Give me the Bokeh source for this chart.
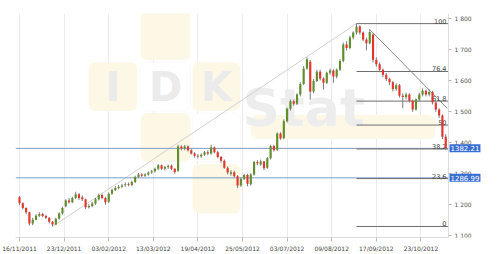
from bokeh.plotting import figure
from bokeh.models import (Range1d, FixedTicker, Label, BoxAnnotation, ColumnDataSource,
                          LinearAxis)
from bokeh.embed import file_html
from bokeh.resources import INLINE
from bokeh.core.properties import value

# ---------------- data ----------------
date_ticks = [0, 27, 54, 81, 108, 135, 162, 189, 216, 243]
date_labels = ["16/11/2011", "23/12/2011", "03/02/2012", "13/03/2012", "19/04/2012",
               "25/05/2012", "03/07/2012", "09/08/2012", "17/09/2012", "23/10/2012"]
price_ticks = [1100, 1200, 1300, 1400, 1500, 1600, 1700, 1800]
price_tick_labels = ["1 100", "1 200", "1 300", "1 400", "1 500", "1 600", "1 700", "1 800"]

opens = [1224, 1205, 1190, 1176, 1140, 1152, 1165, 1170, 1164, 1158,
         1145, 1136, 1155, 1172, 1195, 1214, 1208, 1222, 1234, 1224,
         1218, 1192, 1196, 1204, 1218, 1232, 1222, 1210, 1236, 1248,
         1254, 1258, 1264, 1266, 1264, 1274, 1290, 1298, 1294, 1298,
         1304, 1308, 1316, 1328, 1316, 1322, 1326, 1316, 1310, 1388,
         1382, 1388, 1376, 1366, 1358, 1356, 1362, 1370, 1366, 1385,
         1370, 1354, 1342, 1320, 1300, 1305, 1292, 1262, 1284, 1296,
         1266, 1298, 1338, 1330, 1340, 1320, 1350, 1390, 1378, 1430,
         1416, 1470, 1510, 1534, 1526, 1556, 1590, 1640, 1662, 1566,
         1600, 1630, 1608, 1594, 1626, 1634, 1614, 1636, 1664, 1718,
         1706, 1740, 1756, 1776, 1756, 1734, 1722, 1750, 1668, 1654,
         1636, 1620, 1606, 1596, 1574, 1586, 1552, 1548, 1556, 1536,
         1508, 1540, 1556, 1568, 1556, 1564, 1530, 1508, 1488, 1420]
highs = [1228, 1208, 1192, 1178, 1158, 1170, 1176, 1174, 1168, 1160,
         1148, 1158, 1176, 1194, 1218, 1222, 1226, 1242, 1238, 1230,
         1220, 1202, 1210, 1222, 1236, 1236, 1226, 1240, 1252, 1260,
         1264, 1268, 1272, 1272, 1278, 1294, 1303, 1302, 1302, 1308,
         1313, 1320, 1332, 1330, 1326, 1330, 1330, 1318, 1394, 1392,
         1393, 1392, 1380, 1370, 1364, 1366, 1374, 1376, 1394, 1388,
         1374, 1358, 1346, 1324, 1312, 1310, 1296, 1288, 1300, 1300,
         1302, 1342, 1344, 1346, 1342, 1354, 1394, 1394, 1434, 1434,
         1476, 1514, 1540, 1540, 1560, 1596, 1648, 1676, 1668, 1606,
         1636, 1636, 1612, 1630, 1640, 1638, 1640, 1670, 1724, 1728,
         1746, 1760, 1785, 1780, 1760, 1740, 1766, 1754, 1676, 1660,
         1640, 1626, 1610, 1600, 1592, 1590, 1560, 1562, 1560, 1540,
         1544, 1562, 1576, 1572, 1572, 1568, 1534, 1512, 1492, 1428]
lows = [1200, 1185, 1170, 1133, 1134, 1150, 1160, 1160, 1154, 1140,
        1130, 1134, 1152, 1168, 1192, 1204, 1205, 1218, 1216, 1212,
        1186, 1188, 1192, 1200, 1214, 1218, 1200, 1206, 1232, 1244,
        1250, 1254, 1258, 1260, 1260, 1270, 1286, 1290, 1290, 1294,
        1300, 1304, 1312, 1312, 1310, 1316, 1312, 1300, 1306, 1376,
        1376, 1372, 1362, 1352, 1350, 1352, 1358, 1360, 1362, 1366,
        1350, 1336, 1316, 1298, 1294, 1288, 1254, 1258, 1280, 1260,
        1262, 1294, 1328, 1326, 1312, 1316, 1346, 1372, 1374, 1410,
        1412, 1466, 1504, 1520, 1522, 1550, 1586, 1636, 1540, 1560,
        1596, 1602, 1572, 1590, 1620, 1594, 1608, 1632, 1660, 1698,
        1702, 1734, 1750, 1750, 1728, 1699, 1718, 1660, 1646, 1628,
        1612, 1600, 1586, 1566, 1568, 1546, 1512, 1540, 1530, 1500,
        1504, 1534, 1550, 1550, 1550, 1524, 1500, 1480, 1412, 1378]
closes = [1205, 1190, 1176, 1140, 1152, 1165, 1170, 1164, 1158, 1145,
          1136, 1155, 1172, 1190, 1214, 1208, 1222, 1234, 1222, 1218,
          1192, 1196, 1204, 1218, 1232, 1222, 1208, 1236, 1248, 1254,
          1258, 1262, 1266, 1264, 1274, 1290, 1298, 1294, 1298, 1304,
          1308, 1316, 1328, 1316, 1322, 1326, 1316, 1306, 1388, 1382,
          1388, 1376, 1366, 1358, 1356, 1362, 1370, 1366, 1385, 1370,
          1354, 1342, 1320, 1304, 1305, 1292, 1262, 1284, 1296, 1268,
          1298, 1338, 1334, 1340, 1318, 1350, 1390, 1376, 1430, 1414,
          1470, 1510, 1534, 1526, 1556, 1590, 1640, 1670, 1566, 1600,
          1630, 1608, 1594, 1626, 1634, 1614, 1636, 1664, 1718, 1706,
          1740, 1756, 1776, 1756, 1734, 1722, 1758, 1668, 1654, 1636,
          1620, 1606, 1596, 1574, 1586, 1552, 1548, 1556, 1536, 1508,
          1540, 1556, 1568, 1556, 1564, 1530, 1508, 1488, 1420, 1382.21]
bar_index = list(range(0, 2 * len(closes), 2))

fib_high = 1785
fib_low = 1130
fib_start = 204
fib_ratios = [0, 23.6, 38.2, 50, 61.8, 76.4, 100]
fib_labels = ["0", "23,6", "38,2", "50", "61,8", "76,4", "100"]

trend_up_x = [20, 204]
trend_up_y = [1130, 1785]
trend_down_x = [212, 259]
trend_down_y = [1766, 1511]

price_levels = [1382.21, 1286.99]
price_level_labels = ["1382.21", "1286.99"]

# ---------------- layout ----------------
W, H = 500, 254
FL, FR, FT, FB = 15, 500, 13, 238      # frame (pixels)
AXIS_PX = 448                           # where the price axis sits
PX0, PXSTEP = 19, 1.652                 # pixel of index 0, pixels per index unit
X0 = (FL - PX0) / PXSTEP
X1 = (FR - PX0) / PXSTEP
XA = (AXIS_PX - PX0) / PXSTEP
Y0, Y1 = 1094.4, 1817.7


def px_x(px):
    return (px - PX0) / PXSTEP


def px_y(py):
    return Y1 - (py - FT) * (Y1 - Y0) / (FB - FT)


p = figure(width=W, height=H, x_range=Range1d(X0, X1), y_range=Range1d(Y0, Y1),
           y_axis_location=None, output_backend="svg", toolbar_location=None,
           min_border_left=FL, min_border_right=0, min_border_top=FT,
           min_border_bottom=H - FB, background_fill_color="white",
           border_fill_color="white")
p.outline_line_color = None

# x axis
xa = p.xaxis[0]
xa.ticker = FixedTicker(ticks=date_ticks)
xa.major_label_overrides = {t: l for t, l in zip(date_ticks, date_labels)}
xa.bounds = (X0, XA)
xa.axis_line_color = "#dddddd"
xa.major_tick_line_color = "#bbbbbb"
xa.major_tick_out = 4
xa.major_tick_in = 0
xa.minor_tick_line_color = None
xa.major_label_text_font = "DejaVu Sans"
xa.major_label_text_font_size = "6px"
xa.major_label_text_color = "#444444"
xa.major_label_standoff = 3

# price axis, drawn at a fixed x inside the frame
ya = LinearAxis(fixed_location=XA, ticker=FixedTicker(ticks=price_ticks),
                major_label_overrides={t: l for t, l in zip(price_ticks, price_tick_labels)})
ya.axis_line_color = "#dddddd"
ya.major_tick_line_color = "#bbbbbb"
ya.major_tick_out = 3
ya.major_tick_in = 0
ya.minor_tick_line_color = None
ya.major_label_text_font = "DejaVu Sans"
ya.major_label_text_font_size = "6px"
ya.major_label_text_color = "#555555"
ya.major_label_standoff = 3
p.add_layout(ya, "right")

p.xgrid.ticker = FixedTicker(ticks=date_ticks)
p.xgrid.grid_line_color = "#ebebeb"
p.ygrid.grid_line_color = None

# watermark logo
yellow = "#fdf8e6"
for (a, b, c, d) in [(140, 9, 190, 60), (88, 62, 137, 111), (192, 62, 240, 111),
                     (140, 113, 190, 162), (192, 164, 240, 214), (250, 115, 435, 139)]:
    p.add_layout(BoxAnnotation(left=px_x(a), right=px_x(c), top=px_y(b), bottom=px_y(d),
                               fill_color=yellow, fill_alpha=1, line_color=None,
                               border_radius=7, level="underlay"))
for (a, b, c, d) in [(140, 62, 190, 111), (192, 113, 240, 162)]:
    p.add_layout(BoxAnnotation(left=px_x(a), right=px_x(c), top=px_y(b), bottom=px_y(d),
                               fill_color="white", fill_alpha=1, line_color="#f0f0f0",
                               line_width=1, border_radius=7, level="underlay"))
for (t, cx) in [("I", 112.5), ("D", 165), ("K", 216)]:
    p.add_layout(Label(x=px_x(cx), y=px_y(87), text=t, text_font="DejaVu Sans",
                       text_font_size="40px", text_font_style="bold", text_color="#ebebeb",
                       text_align="center", text_baseline="middle", level="underlay"))
p.add_layout(Label(x=px_x(242), y=px_y(108), text="Stat", text_font="DejaVu Sans",
                   text_font_size="52px", text_font_style="bold", text_color="#ededed",
                   text_align="left", text_baseline="alphabetic", level="underlay"))

# trend lines
p.line(trend_up_x, trend_up_y, line_color="#d2d2d2", line_width=1)
p.line(trend_down_x, trend_down_y, line_color="#8c8c8c", line_width=1)

# price level lines (full width up to the price axis)
lsrc = ColumnDataSource(dict(x0=[X0] * len(price_levels), x1=[XA] * len(price_levels),
                             y=price_levels))
p.segment(x0="x0", y0="y", x1="x1", y1="y", source=lsrc, line_color="#7f9cc4", line_width=1)

# fibonacci levels
fib_vals = [fib_low + r / 100.0 * (fib_high - fib_low) for r in fib_ratios]
fsrc = ColumnDataSource(dict(x0=[fib_start] * len(fib_vals), x1=[XA] * len(fib_vals),
                             y=fib_vals, t=fib_labels))
p.segment(x0="x0", y0="y", x1="x1", y1="y", source=fsrc, line_color="#6e6e6e", line_width=1)
p.text(x="x1", y="y", text="t", source=fsrc, text_font=value("DejaVu Sans"),
       text_font_size="6.5px", text_color="#444444", text_align="right",
       text_baseline="bottom", x_offset=-2, y_offset=0)

# candles
green, red = "#5e8f2c", "#e3352c"
cols = [green if c >= o else red for o, c in zip(opens, closes)]
src = ColumnDataSource(dict(x=bar_index, top=[max(o, c) for o, c in zip(opens, closes)],
                            bottom=[min(o, c) for o, c in zip(opens, closes)],
                            high=highs, low=lows, color=cols))
p.segment(x0="x", y0="low", x1="x", y1="high", source=src, line_color="#7d7d7d", line_width=1)
p.vbar(x="x", width=1.3, top="top", bottom="bottom", source=src, fill_color="color",
       line_color=None)

# price labels on the axis
for lv, lb in zip(price_levels, price_level_labels):
    p.add_layout(Label(x=XA, y=lv, text=lb, x_offset=1, text_font="DejaVu Sans",
                       text_font_size="7px", text_color="white", text_align="left",
                       text_baseline="middle", background_fill_color="#3a6fd2",
                       background_fill_alpha=1, padding=1))

open("out.html", "w").write(file_html(p, INLINE))
